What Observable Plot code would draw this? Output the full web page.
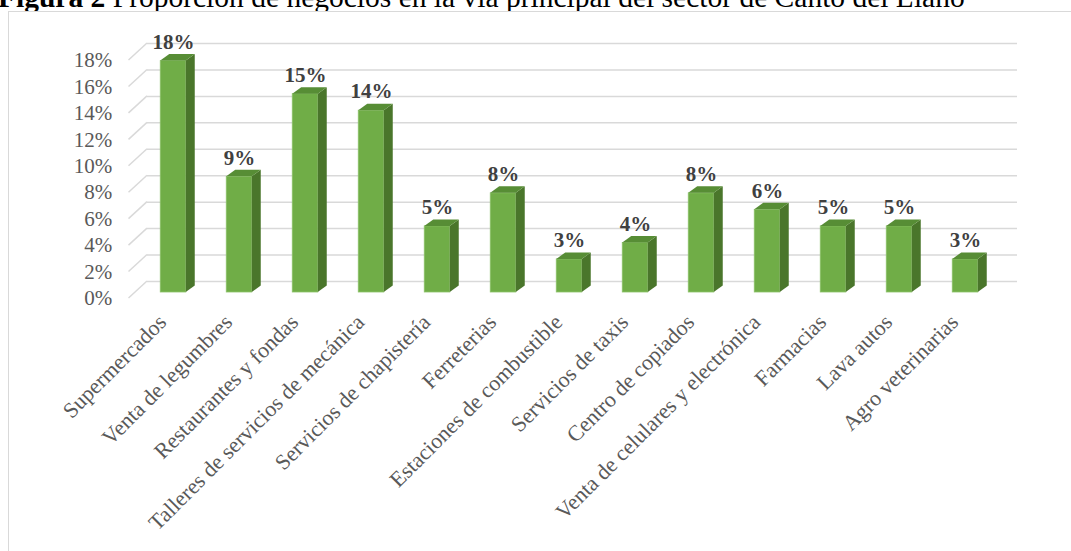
<!DOCTYPE html>
<html><head><meta charset="utf-8">
<script src="https://cdn.jsdelivr.net/npm/d3@7"></script>
<script src="https://cdn.jsdelivr.net/npm/@observablehq/plot@0.6"></script>
<style>
html,body{margin:0;padding:0;background:#fff;}
body{width:1071px;height:551px;overflow:hidden;position:relative;font-family:"Liberation Serif","Times New Roman",serif;}
#title{position:absolute;left:-2px;top:-18px;font-size:29.5px;line-height:30px;white-space:nowrap;color:#000;}
#frame{position:absolute;left:8px;top:11px;width:1100px;height:600px;border:1.5px solid #d9d9d9;box-sizing:border-box;background:#fff;}
#chart{position:absolute;left:0;top:0;}
</style></head>
<body>
<div id="title"><b>Figura 2</b> Proporción de negocios en la vía principal del sector de Canto del Llano</div>
<div id="frame"></div>
<div id="chart"></div>
<script>
const categorias = ["Supermercados","Venta de legumbres","Restaurantes y fondas","Talleres de servicios de mecánica","Servicios de chapistería","Ferreterias","Estaciones de combustible","Servicios de taxis","Centro de copiados","Venta de celulares y electrónica","Farmacias","Lava autos","Agro veterinarias"];
const valores = [0.175,0.0875,0.15,0.1375,0.05,0.075,0.025,0.0375,0.075,0.0625,0.05,0.05,0.025];
const etiquetasValor = ["18%","9%","15%","14%","5%","8%","3%","4%","8%","6%","5%","5%","3%"];
const ticksY = [0,0.02,0.04,0.06,0.08,0.10,0.12,0.14,0.16,0.18];
const etiquetasY = ["0%","2%","4%","6%","8%","10%","12%","14%","16%","18%"];

const datos = categorias.map((c,i)=>({categoria:c, valor:valores[i], etiqueta:etiquetasValor[i]}));

const inset = 20.25;   // half of gap between bars
const barDy = -6;      // bars sit behind the front of the floor
const depthX = 9, depthY = 6.5; // bar depth
const wallX = 18.5, wallY = -17; // back wall offset

function caras(index, scales, values, dimensions) {
  const x = scales.x, y = scales.y;
  const bw = x.bandwidth ? x.bandwidth() : (dimensions.width - dimensions.marginLeft - dimensions.marginRight)/categorias.length;
  const g = d3.create("svg:g");
  datos.forEach(d => {
    const L = x(d.categoria) + inset, R = x(d.categoria) + bw - inset;
    const T = y(d.valor) + barDy, B = y(0) + barDy;
    g.append("path")
      .attr("d", `M${R},${B}L${R+depthX},${B-depthY}L${R+depthX},${T-depthY}L${R},${T}Z`)
      .attr("fill", "#4a762b");
    g.append("path")
      .attr("d", `M${L},${T}L${L+depthX},${T-depthY}L${R+depthX},${T-depthY}L${R},${T}Z`)
      .attr("fill", "#578d35");
  });
  return g.node();
}

function diagonales(index, scales, values, dimensions) {
  const y = scales.y;
  const x0 = dimensions.marginLeft - 8.25;
  const g = d3.create("svg:g");
  ticksY.forEach(t => {
    g.append("line")
      .attr("x1", x0).attr("y1", y(t))
      .attr("x2", x0 + wallX).attr("y2", y(t) + wallY)
      .attr("stroke", "#d9d9d9").attr("stroke-width", 1.5);
  });
  return g.node();
}

const chart = Plot.plot({
  width: 1071,
  height: 551,
  marginLeft: 136.75,
  marginRight: 69.75,
  marginTop: 60,
  marginBottom: 253,
  style: {background: "transparent", fontFamily: "'Liberation Serif','Times New Roman',serif", fontSize: "21px", color: "#595959"},
  x: {domain: categorias, padding: 0, label: null, axis: null},
  y: {domain: [0, 0.18], label: null, ticks: ticksY, tickFormat: (d) => etiquetasY[ticksY.indexOf(d)], tickSize: 0, tickPadding: 25},
  marks: [
    Plot.ruleY(ticksY, {y: d => d, dy: wallY, insetLeft: 10.25, insetRight: -15.75, stroke: "#d9d9d9", strokeWidth: 1.5}),
    diagonales,
    Plot.barY(datos, {x: "categoria", y: "valor", dy: barDy, insetLeft: inset, insetRight: inset, fill: "#70ad47", stroke: "#8cc269", strokeWidth: 0.8}),
    caras,
    Plot.text(datos, {x: "categoria", y: "valor", text: "etiqueta", dy: -25, fontSize: 21, fontWeight: "bold", fill: "#404040"}),
    Plot.text(datos, {x: "categoria", text: "categoria", frameAnchor: "bottom", rotate: -45, textAnchor: "end", lineAnchor: "top", dx: -17, dy: 14, fontSize: 22, fill: "#595959"})
  ]
});
document.getElementById("chart").appendChild(chart);
</script>
</body></html>
